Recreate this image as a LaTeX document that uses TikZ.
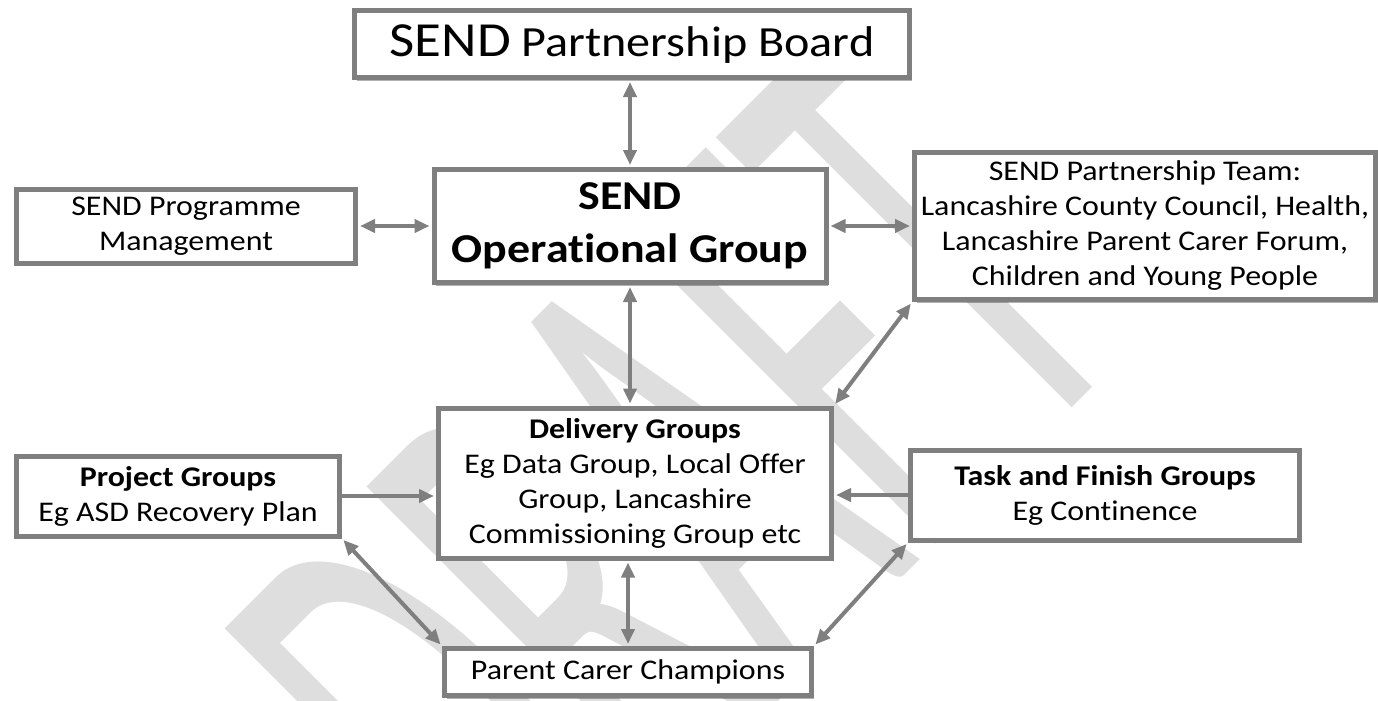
\documentclass[tikz,border=0pt]{standalone}
\usepackage{fontspec}
\setmainfont{Carlito}[FakeStretch=1.12, Ligatures=CommonOff]
\newfontfamily\wmfont{Carlito}
\usetikzlibrary{arrows.meta,shadows}

\definecolor{boxgray}{RGB}{127,127,127}
\definecolor{wmgray}{RGB}{222,222,222}

\tikzset{
  box/.style={draw=boxgray, line width=5pt, fill=white, align=center, inner sep=2pt,
    font=\fontsize{28.5}{35}\selectfont,
    drop shadow={shadow xshift=2pt, shadow yshift=-3pt, opacity=.3, fill=black}},
  link/.style={draw=boxgray, line width=4pt, <->, shorten <=2pt, shorten >=2pt},
  feed/.style={draw=boxgray, line width=4pt, ->, shorten >=2pt},
}

\begin{document}
\begin{tikzpicture}[x=1pt, y=-1pt, >={Triangle[length=15pt,width=13pt]}]
    \useasboundingbox (0,0) rectangle (1378,701);
    \clip (0,0) rectangle (1378,701);

    % watermark
    \node[rotate=45, xscale=0.47, anchor=base east, text=wmgray, inner sep=0pt,
          font=\fontsize{690}{690}\wmfont] (draft) at (1138,342) {DRAFT};

    % boxes
    \node[box, minimum width=555pt, minimum height=67pt,
          font=\fontsize{43}{50}\selectfont] (board) at (632,44)
          {{\fontsize{49}{50}\selectfont SEND} Partnership Board};
    \node[box, minimum width=392pt, minimum height=113pt,
          font=\fontsize{41}{53}\selectfont\bfseries] (opgroup) at (630,226)
          {SEND\\Operational Group};
    \node[box, minimum width=339pt, minimum height=74pt] (progmgmt) at (186,226)
          {SEND Programme\\Management};
    \node[box, minimum width=461pt, minimum height=147pt] (team) at (1145,226)
          {SEND Partnership Team:\\Lancashire County Council, Health,\\Lancashire Parent Carer Forum,\\Children and Young People};
    \node[box, minimum width=393pt, minimum height=150pt] (delivery) at (635,483)
          {\textbf{Delivery Groups}\\Eg Data Group, Local Offer\\Group, Lancashire\\Commissioning Group etc};
    \node[box, minimum width=323pt, minimum height=80pt] (project) at (178,496)
          {\textbf{Project Groups}\\Eg ASD Recovery Plan};
    \node[box, minimum width=389pt, minimum height=90pt] (task) at (1105,495)
          {\textbf{Task and Finish Groups}\\Eg Continence};
    \node[box, minimum width=367pt, minimum height=47pt] (champions) at (628,672)
          {Parent Carer Champions};

    % connectors
    \draw[link] (board.south -| opgroup.north) -- (opgroup.north);
    \draw[link] (progmgmt.east) -- (progmgmt.east -| opgroup.west);
    \draw[link] (opgroup.east) -- (opgroup.east -| team.west);
    \draw[link] (opgroup.south) -- (opgroup.south |- delivery.north);
    \draw[link] (team.south west) -- (delivery.north east);
    \draw[feed] (project.east) -- (project.east -| delivery.west);
    \draw[feed] (task.west) -- (task.west -| delivery.east);
    \draw[link] (delivery.south -| champions.north) -- (champions.north);
    \draw[link] (project.south east) -- (champions.north west);
    \draw[link] (task.south west) -- (champions.north east);
\end{tikzpicture}
\end{document}
